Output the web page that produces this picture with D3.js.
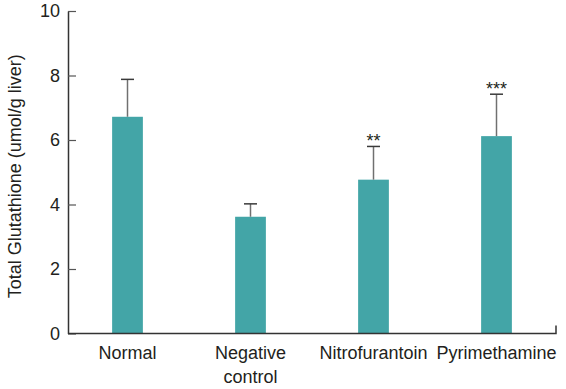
<!DOCTYPE html>
<html>
<head>
<meta charset="utf-8">
<script src="https://cdn.jsdelivr.net/npm/d3@7"></script>
<style>
  body { margin: 0; background: #fff; }
  text { font-family: "Liberation Sans", Arial, sans-serif; fill: #231f20; }
</style>
</head>
<body>
<div id="chart"></div>
<script>
// data
var groups = ["Normal", "Negative control", "Nitrofurantoin", "Pyrimethamine"];
var means = [6.72, 3.62, 4.77, 6.12];
var upper = [7.88, 4.02, 5.8, 7.42];
var marks = ["", "", "**", "***"];
var yTicks = [0, 2, 4, 6, 8, 10];

var width = 566;
var height = 389;
var axisX = 68;
var axisTop = 11;
var axisBottom = 333.5;
var axisRight = 556;

var svg = d3.select("#chart")
  .append("svg")
  .attr("width", width)
  .attr("height", height);

var xScale = d3.scaleBand()
  .domain(groups)
  .range([66, 558])
  .paddingInner(0.75)
  .paddingOuter(0.375);

var yScale = d3.scaleLinear()
  .domain([0, 10])
  .range([axisBottom, axisTop]);

// bars
svg.selectAll(".bar")
  .data(groups)
  .enter()
  .append("rect")
  .attr("class", "bar")
  .attr("x", function(d) { return xScale(d); })
  .attr("width", xScale.bandwidth())
  .attr("y", function(d, i) { return yScale(means[i]); })
  .attr("height", function(d, i) { return axisBottom - yScale(means[i]); })
  .attr("fill", "#43a5a7");

// error bars (upper only)
var capHalf = 6.5;
svg.selectAll(".err")
  .data(groups)
  .enter()
  .append("line")
  .attr("class", "err")
  .attr("x1", function(d) { return xScale(d) + xScale.bandwidth() / 2; })
  .attr("x2", function(d) { return xScale(d) + xScale.bandwidth() / 2; })
  .attr("y1", function(d, i) { return yScale(means[i]); })
  .attr("y2", function(d, i) { return yScale(upper[i]); })
  .attr("stroke", "#707070")
  .attr("stroke-width", 1.5);

svg.selectAll(".cap")
  .data(groups)
  .enter()
  .append("line")
  .attr("class", "cap")
  .attr("x1", function(d) { return xScale(d) + xScale.bandwidth() / 2 - capHalf; })
  .attr("x2", function(d) { return xScale(d) + xScale.bandwidth() / 2 + capHalf; })
  .attr("y1", function(d, i) { return yScale(upper[i]); })
  .attr("y2", function(d, i) { return yScale(upper[i]); })
  .attr("stroke", "#3a3a3a")
  .attr("stroke-width", 1.5);

// significance marks
svg.selectAll(".sig")
  .data(groups)
  .enter()
  .append("text")
  .attr("class", "sig")
  .attr("x", function(d) { return xScale(d) + xScale.bandwidth() / 2; })
  .attr("y", function(d, i) { return yScale(upper[i]) + 1; })
  .attr("text-anchor", "middle")
  .attr("font-size", 18)
  .text(function(d, i) { return marks[i]; });

// y axis, ticks pointing inward
var yAxis = d3.axisLeft(yScale)
  .tickValues(yTicks)
  .tickSizeInner(-8)
  .tickSizeOuter(0)
  .tickPadding(8);

var gy = svg.append("g")
  .attr("transform", "translate(" + axisX + ",0)")
  .call(yAxis);
gy.select(".domain").attr("stroke", "#333").attr("stroke-width", 1.5);
gy.selectAll(".tick line").attr("stroke", "#555").attr("stroke-width", 1.2);
gy.selectAll(".tick text")
  .attr("font-size", 18)
  .attr("fill", "#231f20")
  .style("font-family", "'Liberation Sans', Arial, sans-serif");

// x axis line with small end tick
svg.append("path")
  .attr("d", "M" + axisX + "," + axisBottom + "H" + axisRight + "V" + (axisBottom - 8))
  .attr("fill", "none")
  .attr("stroke", "#333")
  .attr("stroke-width", 1.5);

// category labels
var labelG = svg.selectAll(".xlab")
  .data(groups)
  .enter()
  .append("text")
  .attr("class", "xlab")
  .attr("text-anchor", "middle")
  .attr("font-size", 18)
  .attr("x", function(d) { return xScale(d) + xScale.bandwidth() / 2; })
  .attr("y", 359);

labelG.each(function(d) {
  var words = d === "Negative control" ? ["Negative", "control"] : [d];
  var t = d3.select(this);
  words.forEach(function(w, k) {
    t.append("tspan")
      .attr("x", t.attr("x"))
      .attr("dy", k === 0 ? 0 : 24)
      .text(w);
  });
});

// y axis title
svg.append("text")
  .attr("transform", "translate(21," + ((axisTop + axisBottom) / 2 + 4) + ")rotate(-90)")
  .attr("text-anchor", "middle")
  .attr("font-size", 18)
  .text("Total Glutathione (umol/g liver)");
</script>
</body>
</html>
